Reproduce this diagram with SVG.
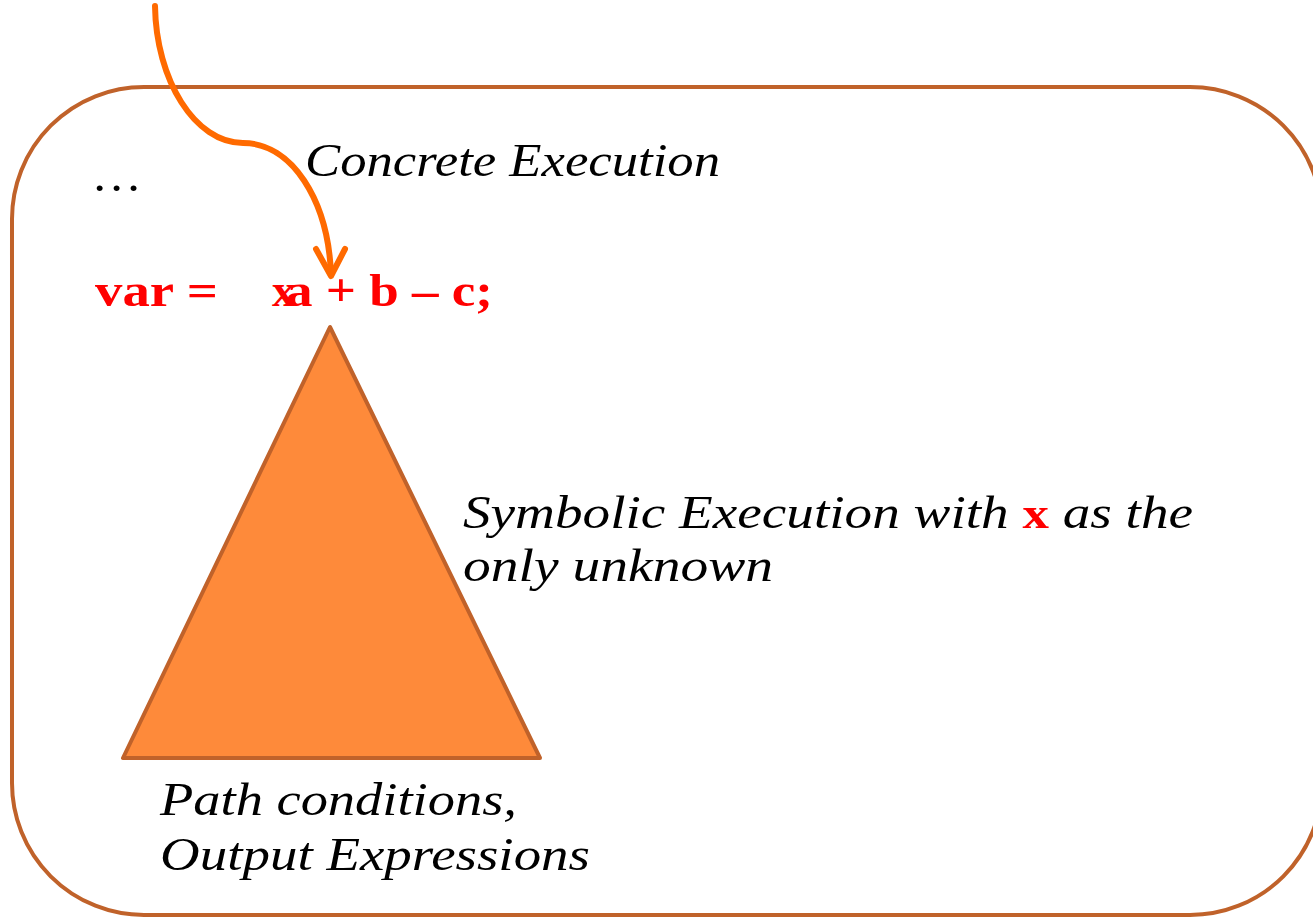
<svg xmlns="http://www.w3.org/2000/svg" width="1313" height="917" viewBox="0 0 1313 917">
<style>
.it{font-family:"Liberation Serif","DejaVu Serif",serif;font-style:italic;font-size:46px;fill:#000}
.code{font-family:"Liberation Serif","DejaVu Serif",serif;font-weight:bold;font-size:46px;fill:#FF0000}
</style>
<g id="frame">
<rect x="12" y="87" width="1310" height="828" rx="132" ry="132" fill="none" stroke="#C0622A" stroke-width="4"/>
</g>
<g id="triangle">
<polygon points="330,327 123,758 540,758" fill="#FE8A3A" stroke="#C0622A" stroke-width="4" stroke-linejoin="round"/>
</g>
<g id="labels">
<text class="it" x="95" y="191" textLength="45" lengthAdjust="spacingAndGlyphs">…</text>
<text class="it" x="305" y="176" textLength="415" lengthAdjust="spacingAndGlyphs">Concrete Execution</text>
<text class="code" x="95" y="306" textLength="123" lengthAdjust="spacingAndGlyphs">var =</text>
<text class="code" x="272" y="306">x</text>
<text class="code" x="286" y="306" textLength="207" lengthAdjust="spacingAndGlyphs">a + b – c;</text>
<text class="it" x="463" y="528" textLength="730" lengthAdjust="spacingAndGlyphs">Symbolic Execution with <tspan font-style="normal" font-weight="bold" fill="#FF0000" font-size="44">x</tspan> as the</text>
<text class="it" x="463" y="581" textLength="310" lengthAdjust="spacingAndGlyphs">only unknown</text>
<text class="it" x="160" y="815" textLength="357" lengthAdjust="spacingAndGlyphs">Path conditions,</text>
<text class="it" x="160" y="870" textLength="430" lengthAdjust="spacingAndGlyphs">Output Expressions</text>
</g>
<g id="connectors" fill="none" stroke="#FF6A00" stroke-width="6" stroke-linecap="round" stroke-linejoin="round">
<path d="M155,6 C156,80 195,143 243,143 C292,143 328,200 331,274"/>
<path d="M316,249 L331,276 L345,249"/>
</g>
</svg>
